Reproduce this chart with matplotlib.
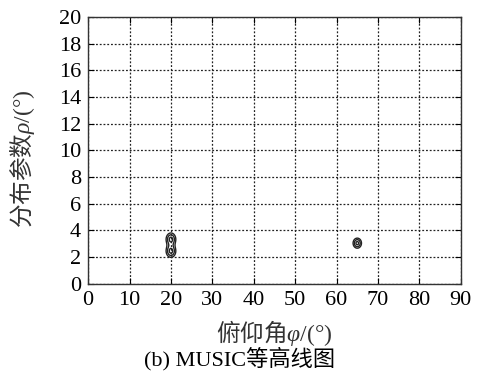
import numpy as np
import matplotlib
matplotlib.use("Agg")
import matplotlib.pyplot as plt

# ====================================
# DATA
# ====================================

# peak centres (elevation phi, spread rho) and sizes of the MUSIC spectrum
peak_phi = [20.0, 20.0, 65.0]
peak_rho = [2.45, 3.35, 3.05]
peak_sx = [0.8, 0.8, 0.7]
peak_sy = [0.32, 0.32, 0.26]
contour_levels = [0.35, 0.6, 0.9]

x_ticks = [0, 10, 20, 30, 40, 50, 60, 70, 80, 90]
y_ticks = [0, 2, 4, 6, 8, 10, 12, 14, 16, 18, 20]

# ====================================
# BUILD SPECTRUM GRID
# ====================================

phi = np.linspace(0, 90, 901)
rho = np.linspace(0, 20, 801)
PHI, RHO = np.meshgrid(phi, rho)
Z = np.zeros_like(PHI)
for px, py, sx, sy in zip(peak_phi, peak_rho, peak_sx, peak_sy):
    Z += np.exp(-((PHI - px) ** 2 / (2 * sx ** 2) + (RHO - py) ** 2 / (2 * sy ** 2)))

# ====================================
# PLOT
# ====================================

plt.rcParams['font.family'] = ['Liberation Serif', 'Noto Sans CJK SC']
plt.rcParams['mathtext.fontset'] = 'custom'
plt.rcParams['mathtext.rm'] = 'Noto Sans CJK SC'
plt.rcParams['mathtext.it'] = 'Liberation Serif:italic'
plt.rcParams['mathtext.sf'] = 'Liberation Serif'

fig = plt.figure(figsize=(4.79, 3.72), dpi=100)
ax = fig.add_axes([0.184, 0.237, 0.778, 0.717])

ax.contour(PHI, RHO, Z, levels=contour_levels, colors='#222222', linewidths=1.0)

ax.set_xlim(0, 90)
ax.set_ylim(0, 20)
ax.set_xticks(x_ticks)
ax.set_yticks(y_ticks)
ax.tick_params(direction='in', top=True, right=True, labelsize=16, length=4, pad=5)
ax.grid(True, linestyle=(0, (1.5, 1.5)), color='#222222', linewidth=0.9)

for s in ax.spines.values():
    s.set_linewidth(1.0)
    s.set_color('#333333')

cjk = 'Noto Sans CJK SC'
ax.set_xlabel('俯仰角$\\varphi\\mathsf{/(°)}$', fontsize=17, family=cjk, color='#333333')
ax.xaxis.set_label_coords(0.5, -0.1835)
ax.xaxis.label.set_va('center')
ax.set_ylabel('分布参数$\\rho\\mathsf{/(°)}$', fontsize=17, family=cjk, color='#333333')
ax.yaxis.set_label_coords(-0.177, 0.47)
ax.yaxis.label.set_va('center')

fig.text(0.5, 0.035, '(b) MUSIC等高线图', ha='center', va='center', fontsize=16)

plt.savefig('out.png', dpi=100)
plt.close()
